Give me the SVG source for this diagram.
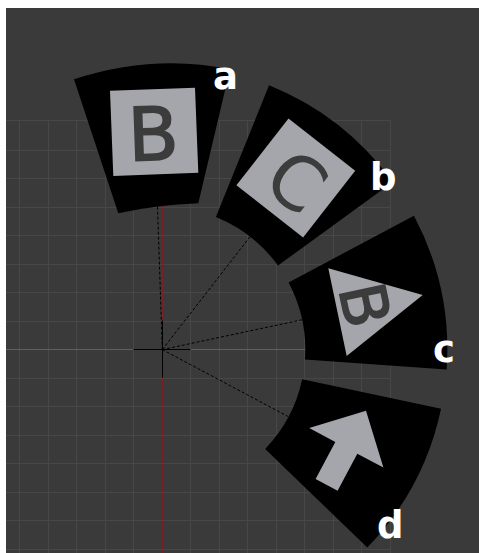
<svg xmlns="http://www.w3.org/2000/svg" width="479" height="553" viewBox="0 0 479 553">
<style>
.grid line{stroke:#474747;stroke-width:1}
.sector{fill:#000}
.face{fill:#a5a5ac}
.glyph{fill:#3c3c3c;font-family:"DejaVu Sans","Liberation Sans",sans-serif;text-anchor:middle}
.bold{stroke:#3c3c3c;stroke-width:1.6}
.lbl{fill:#fff;font-family:"DejaVu Sans","Liberation Sans",sans-serif;font-weight:bold;font-size:37px}
.dash{stroke:#000;stroke-width:1;stroke-dasharray:3 2;fill:none}
</style>
<rect x="0" y="0" width="479" height="553" fill="#3a3a3a"/>
<rect x="0" y="0" width="479" height="8" fill="#fff"/>
<rect x="0" y="0" width="6" height="553" fill="#fff"/>
<g id="grid" class="grid">
<line x1="19.5" y1="120.5" x2="19.5" y2="553"/>
<line x1="48.5" y1="120.5" x2="48.5" y2="553"/>
<line x1="76.5" y1="120.5" x2="76.5" y2="553"/>
<line x1="105.5" y1="120.5" x2="105.5" y2="553"/>
<line x1="133.5" y1="120.5" x2="133.5" y2="553"/>
<line x1="190.5" y1="120.5" x2="190.5" y2="553"/>
<line x1="219.5" y1="120.5" x2="219.5" y2="553"/>
<line x1="247.5" y1="120.5" x2="247.5" y2="553"/>
<line x1="276.5" y1="120.5" x2="276.5" y2="553"/>
<line x1="304.5" y1="120.5" x2="304.5" y2="553"/>
<line x1="333.5" y1="120.5" x2="333.5" y2="553"/>
<line x1="361.5" y1="120.5" x2="361.5" y2="553"/>
<line x1="390.5" y1="120.5" x2="390.5" y2="553"/>
<line x1="6" y1="120.5" x2="390.5" y2="120.5"/>
<line x1="6" y1="150.5" x2="390.5" y2="150.5"/>
<line x1="6" y1="178.5" x2="390.5" y2="178.5"/>
<line x1="6" y1="207.5" x2="390.5" y2="207.5"/>
<line x1="6" y1="235.5" x2="390.5" y2="235.5"/>
<line x1="6" y1="264.5" x2="390.5" y2="264.5"/>
<line x1="6" y1="292.5" x2="390.5" y2="292.5"/>
<line x1="6" y1="321.5" x2="390.5" y2="321.5"/>
<line x1="6" y1="378.5" x2="390.5" y2="378.5"/>
<line x1="6" y1="406.5" x2="390.5" y2="406.5"/>
<line x1="6" y1="435.5" x2="390.5" y2="435.5"/>
<line x1="6" y1="463.5" x2="390.5" y2="463.5"/>
<line x1="6" y1="492.5" x2="390.5" y2="492.5"/>
<line x1="6" y1="520.5" x2="390.5" y2="520.5"/>
<line x1="6" y1="549.5" x2="390.5" y2="549.5"/>
</g>
<g id="axes">
<line x1="162.5" y1="120.5" x2="162.5" y2="553" stroke="#772222" stroke-width="1"/>
<line x1="6" y1="349.5" x2="390.5" y2="349.5" stroke="#3d7a2a" stroke-width="1"/>
<line x1="133.5" y1="349.5" x2="190.5" y2="349.5" stroke="#000" stroke-width="1"/>
<line x1="162.5" y1="320.5" x2="162.5" y2="377.5" stroke="#000" stroke-width="1"/>
</g>
<g id="connectors">
<line class="dash" x1="162.3" y1="349.6" x2="157.5" y2="206.7"/>
<line class="dash" x1="162.3" y1="349.6" x2="250" y2="236.8"/>
<line class="dash" x1="162.3" y1="349.6" x2="301.9" y2="319.8"/>
<line class="dash" x1="162.3" y1="349.6" x2="288.3" y2="416.6"/>
</g>
<g id="node-a">
<path class="sector" d="M74,79.3 Q153.5,53.5 230,69.3 L198.3,203.3 Q156.7,204.7 118.3,213.3 Z"/>
<polygon class="face" points="110,90.7 195,87.7 198.3,172.7 113.3,176"/>
<text class="glyph bold" font-size="74" transform="translate(155.8,133) rotate(-2)" x="-2.5" y="27">B</text>
<text class="lbl" x="213" y="89">a</text>
</g>
<g id="node-b">
<path class="sector" d="M269.06,85.35 A285,285 0 0 1 392.87,182.08 L277.99,265.55 A143,143 0 0 0 215.87,217 Z"/>
<polygon class="face" points="288.5,118.6 355.2,170.7 303.1,237.4 236.4,185.3"/>
<text class="glyph" font-size="74" transform="translate(297,181) rotate(38)" x="0" y="27">C</text>
<text class="lbl" x="370" y="189.5">b</text>
</g>
<g id="node-c">
<path class="sector" d="M413.94,215.8 A285,285 0 0 1 446.6,369.48 L304.95,359.58 A143,143 0 0 0 288.56,282.47 Z"/>
<polygon class="face" points="328.3,268.3 422.7,295 346.7,356"/>
<text class="glyph bold" font-size="63" transform="translate(366,307) rotate(78)" x="-2.1" y="23">B</text>
<text class="lbl" x="433" y="361.5">c</text>
</g>
<g id="node-d">
<path class="sector" d="M441.07,408.85 A285,285 0 0 1 367.31,547.58 L265.17,448.94 A143,143 0 0 0 302.18,379.33 Z"/>
<polygon class="face" points="366,410.7 383.4,467.5 357.3,453.7 337.6,490.8 315.6,479 335.3,441.9 309.2,428.1"/>
<text class="lbl" x="377" y="538">d</text>
</g>
</svg>
